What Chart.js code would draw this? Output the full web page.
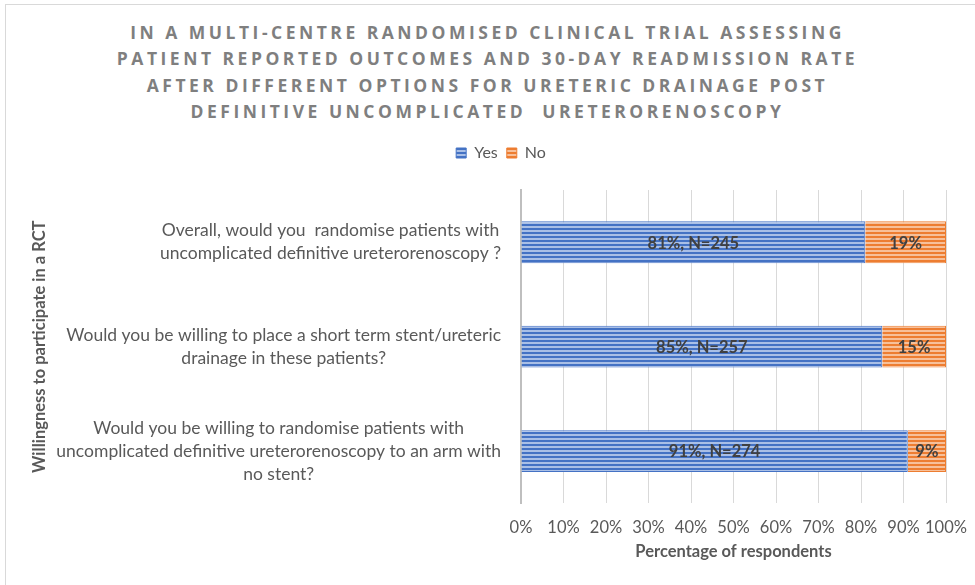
<!DOCTYPE html>
<html>
<head>
<meta charset="utf-8">
<script src="https://cdn.jsdelivr.net/npm/chart.js@4"></script>
<style>
  html, body { margin: 0; padding: 0; background: #fff; overflow: hidden; }
  #wrap { position: relative; width: 975px; height: 585px; }
  #frame { position: absolute; left: 5px; top: 4px; width: 980px; height: 600px; border: 1px solid #d9d9d9; box-sizing: border-box; }
  #title {
    position: absolute; left: 0; top: 19px; width: 975px; text-align: center;
    font: bold 17.5px "Open Sans", sans-serif; letter-spacing: 3.5px; line-height: 26.3px;
    color: #7f7f7f;
  }
  canvas { position: absolute; left: 0; top: 0; }
</style>
</head>
<body>
<div id="wrap">
  <div id="frame"></div>
  <div id="title">IN A MULTI-CENTRE RANDOMISED CLINICAL TRIAL ASSESSING<br>PATIENT REPORTED OUTCOMES AND 30-DAY READMISSION RATE<br>AFTER DIFFERENT OPTIONS FOR URETERIC DRAINAGE POST<br>DEFINITIVE UNCOMPLICATED&nbsp; URETERORENOSCOPY</div>
  <canvas id="chart" width="975" height="585"></canvas>
</div>
<script>
// questions (top to bottom), each split in lines like the original
const questions = [
  ["Overall, would you  randomise patients with", "uncomplicated definitive ureterorenoscopy ?"],
  ["Would you be willing to place a short term stent/ureteric", "drainage in these patients?"],
  ["Would you be willing to randomise patients with", "uncomplicated definitive ureterorenoscopy to an arm with", "no stent?"]
];
const yesPct = [81, 85, 91];
const noPct = [19, 15, 9];
const yesN = [245, 257, 274];
const xTicks = [0, 10, 20, 30, 40, 50, 60, 70, 80, 90, 100];
const yTitle = "Willingness to participate in a RCT";

const FONT = "Lato";
const GREY = "#595959";

// striped fill like the excel pattern
function stripes(dark, light) {
  const c = document.createElement("canvas");
  c.width = 4; c.height = 4;
  const g = c.getContext("2d");
  g.fillStyle = light;
  g.fillRect(0, 0, 4, 4);
  g.fillStyle = dark;
  g.fillRect(0, 0, 4, 2);
  return g.createPattern(c, "repeat");
}
const blueFill = stripes("#4472C4", "#a9bfe6");
const orangeFill = stripes("#ED7D31", "#f7c09a");

// category labels: block right-aligned to the axis, lines centred inside
const questionLabels = {
  id: "questionLabels",
  afterDraw(chart) {
    const ctx = chart.ctx;
    const y = chart.scales.y;
    const area = chart.chartArea;
    ctx.save();
    ctx.font = "17.5px " + FONT;
    ctx.fillStyle = GREY;
    ctx.textAlign = "center";
    ctx.textBaseline = "middle";
    questions.forEach((lines, i) => {
      const cy = y.getPixelForValue(i);
      const w = Math.max(...lines.map(l => ctx.measureText(l).width));
      const cx = area.left - 20 - w / 2;
      const lh = 23;
      lines.forEach((l, k) => {
        ctx.fillText(l, cx, cy + (k - (lines.length - 1) / 2) * lh);
      });
    });
    // axis title
    ctx.font = "bold 16.5px " + FONT;
    ctx.translate(40, (area.top + area.bottom) / 2);
    ctx.rotate(-Math.PI / 2);
    ctx.fillText(yTitle, 0, 0);
    ctx.restore();
  }
};

// value labels in the middle of each bar piece
const barLabels = {
  id: "barLabels",
  afterDatasetsDraw(chart) {
    const ctx = chart.ctx;
    ctx.save();
    ctx.font = "bold 16.5px " + FONT;
    ctx.fillStyle = "#404040";
    ctx.textAlign = "center";
    ctx.textBaseline = "middle";
    chart.data.datasets.forEach((ds, d) => {
      chart.getDatasetMeta(d).data.forEach((bar, i) => {
        const txt = d === 0 ? yesPct[i] + "%, N=" + yesN[i] : noPct[i] + "%";
        ctx.fillText(txt, (bar.x + bar.base) / 2, bar.y + 1);
      });
    });
    ctx.restore();
  }
};

new Chart(document.getElementById("chart"), {
  type: "bar",
  data: {
    labels: questions.map(q => q.join(" ")),
    datasets: [
      { label: "Yes", data: yesPct, backgroundColor: blueFill, borderColor: "#4472C4", borderWidth: 1, barPercentage: 0.4, categoryPercentage: 1 },
      { label: "No", data: noPct, backgroundColor: orangeFill, borderColor: "#ED7D31", borderWidth: 1, barPercentage: 0.4, categoryPercentage: 1 }
    ]
  },
  options: {
    indexAxis: "y",
    responsive: false,
    animation: false,
    layout: { padding: { top: 136, left: 56, right: 29, bottom: 18 } },
    plugins: {
      legend: {
        position: "top",
        labels: { font: { family: FONT, size: 16 }, color: GREY, boxWidth: 10, boxHeight: 10, padding: 9 }
      },
      tooltip: { enabled: false }
    },
    scales: {
      x: {
        stacked: true,
        min: 0, max: 100,
        afterBuildTicks: s => { s.ticks = xTicks.map(v => ({ value: v })); },
        afterFit: s => { s.paddingLeft = 0; s.paddingRight = 0; },
        ticks: { callback: v => v + "%", font: { family: FONT, size: 16.5 }, color: GREY, padding: 14, maxRotation: 0, autoSkip: false },
        grid: { color: "#d9d9d9", drawTicks: false },
        border: { display: false },
        title: { display: true, text: "Percentage of respondents", font: { family: FONT, size: 16.5, weight: "bold" }, color: GREY, padding: { top: -9, bottom: 5 } }
      },
      // empty strip that keeps the gap between legend and plot
      gap: {
        type: "linear",
        axis: "x",
        position: "top",
        ticks: { display: false },
        grid: { display: false, drawTicks: false },
        border: { display: false },
        afterFit: s => { s.height = 19; }
      },
      y: {
        stacked: true,
        ticks: { display: false },
        grid: { display: false },
        border: { display: true, color: "#bfbfbf", width: 2 },
        afterFit: s => { s.width = 521 - 56; }
      }
    }
  },
  plugins: [questionLabels, barLabels]
});
</script>
</body>
</html>
